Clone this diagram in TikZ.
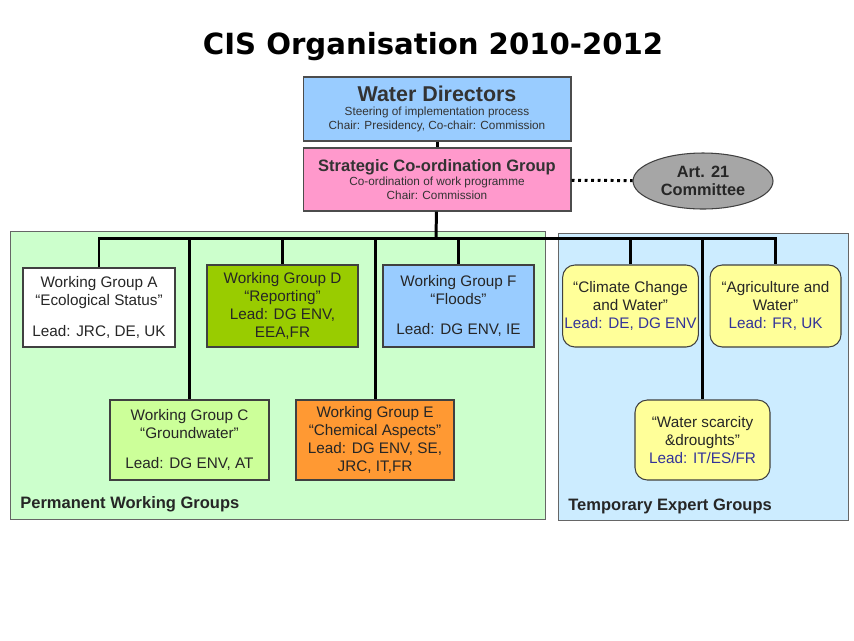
\documentclass[tikz,border=0pt]{standalone}
\usepackage{fontspec}
\setmainfont{Liberation Sans}
\newfontfamily\titlefont{DejaVu Sans}
\usetikzlibrary{positioning, shapes.geometric}
\definecolor{directors}{HTML}{99CCFF}
\definecolor{strategic}{HTML}{FF99CC}
\definecolor{committee}{HTML}{A6A6A6}
\definecolor{permanent}{HTML}{CCFFCC}
\definecolor{temporary}{HTML}{CCECFF}
\definecolor{groupd}{HTML}{99CC00}
\definecolor{groupf}{HTML}{99CCFF}
\definecolor{groupc}{HTML}{CCFF99}
\definecolor{groupe}{HTML}{FF9933}
\definecolor{expert}{HTML}{FFFF99}
\definecolor{leadtext}{HTML}{333399}

\begin{document}
\begin{tikzpicture}[
    x=0.02cm, y=-0.02cm,
    link/.style={line width=1.7pt, black},
    zone/.style={draw=black!60, line width=0.5pt, anchor=north west, inner sep=0pt},
    zonelabel/.style={anchor=base west, inner sep=0pt, font=\fontsize{9.4}{11}\selectfont\bfseries, text=black!85},
    head/.style={draw=black!70, line width=0.6pt, align=center, minimum width=5.36cm,
                 font=\fontsize{6.7}{7.8}\selectfont, text=black!80},
    wg/.style={draw=black!75, line width=0.6pt, align=center, inner sep=1pt,
               minimum height=1.62cm, font=\fontsize{8.7}{10.4}\selectfont, text=black!85},
    teg/.style={wg, fill=expert, rounded corners=7pt, minimum width=2.62cm},
]
\useasboundingbox[fill=white] (0,0) rectangle (854,640);

% title
\node[font=\titlefont\fontsize{16.6}{19}\selectfont\bfseries] (title) at (433,47) {CIS Organisation 2010-2012};

% the two group areas
\node[zone, fill=permanent, minimum width=10.7cm, minimum height=5.76cm] (perm) at (10,231) {};
\node[zone, fill=temporary, minimum width=5.8cm, minimum height=5.74cm] (temp) at (558,233) {};
\node[zonelabel] (permlbl) at (20,508) {Permanent Working Groups};
\node[zonelabel] (templbl) at (568,510) {Temporary Expert Groups};

% steering
\node[head, fill=directors, minimum height=1.28cm] (wd) at (437,109)
    {{\fontsize{12.2}{14}\selectfont\bfseries Water Directors}\\[0pt]
     Steering of implementation process\\ Chair: Presidency, Co-chair: Commission};
\node[head, fill=strategic, minimum height=1.26cm] (scg) at (437,179.5)
    {{\fontsize{9.4}{10.5}\selectfont\bfseries Strategic Co-ordination Group}\\[0pt]
     Co-ordination of work programme\\ Chair: Commission};
\node[ellipse, draw=black!75, line width=0.6pt, fill=committee, minimum width=2.8cm, minimum height=1.12cm,
      inner sep=0pt, align=center, font=\fontsize{9.3}{10.6}\selectfont\bfseries, text=black!85] (art) at (703,181)
    {Art. 21\\ Committee};

% working groups
\node[wg, fill=white, minimum width=3.04cm, minimum height=1.58cm] (wga) at (99,307.5)
    {Working Group A\\ “Ecological Status”\\[7pt] Lead: JRC, DE, UK};
\node[wg, fill=groupd, minimum width=3.02cm, minimum height=1.64cm] (wgd) at (282.5,306)
    {Working Group D\\ “Reporting”\\ Lead: DG ENV,\\ EEA,FR};
\node[wg, fill=groupf, minimum width=3.02cm, minimum height=1.64cm] (wgf) at (458.5,306)
    {Working Group F\\ “Floods”\\[7pt] Lead: DG ENV, IE};
\node[wg, fill=groupc, minimum width=3.18cm, minimum height=1.6cm] (wgc) at (189.5,440)
    {Working Group C\\ “Groundwater”\\[7pt] Lead: DG ENV, AT};
\node[wg, fill=groupe, minimum width=3.16cm, minimum height=1.6cm] (wge) at (375,440)
    {Working Group E\\ “Chemical Aspects”\\ Lead: DG ENV, SE,\\ JRC, IT,FR};

% expert groups
\node[teg, minimum height=1.64cm] (climate) at (630.5,306)
    {“Climate Change\\ and Water”\\ \textcolor{leadtext}{Lead: DE, DG ENV}};
\node[teg, minimum height=1.64cm] (agri) at (775.5,306)
    {“Agriculture and\\ Water”\\ \textcolor{leadtext}{Lead: FR, UK}};
\node[teg, minimum width=2.7cm, minimum height=1.6cm] (scarcity) at (702.5,440)
    {“Water scarcity\\ \&droughts”\\ \textcolor{leadtext}{Lead: IT/ES/FR}};

% connectors
\coordinate (bus) at (436,238);
\draw[link] (wd) -- (scg);
\draw[link] (scg) -- (bus);
\draw[link] (wga.north) |- (bus) -| (agri.north);
\foreach \g in {wgc, wgd, wge, wgf, climate, scarcity}
    \draw[link] (\g.north |- bus) -- (\g.north);
\draw[line width=1.7pt, dotted] (scg) -- (art);

\end{tikzpicture}
\end{document}
